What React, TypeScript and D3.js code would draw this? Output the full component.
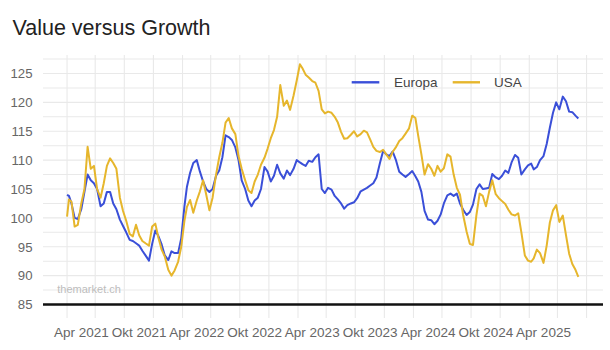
import React from "react";
import * as d3 from "d3";

const DATES = [
  "2021-02-15","2021-02-21",
  "2021-03-01","2021-03-11","2021-03-21","2021-04-01","2021-04-11","2021-04-21",
  "2021-05-01","2021-05-11","2021-05-21","2021-06-01","2021-06-11","2021-06-21",
  "2021-07-01","2021-07-11","2021-07-21","2021-08-01","2021-08-11","2021-08-21",
  "2021-09-01","2021-09-11","2021-09-21","2021-10-01","2021-10-11","2021-10-21",
  "2021-11-01","2021-11-11","2021-11-21","2021-12-01","2021-12-11","2021-12-21",
  "2022-01-01","2022-01-11","2022-01-21","2022-02-01","2022-02-11","2022-02-21",
  "2022-03-01","2022-03-11","2022-03-21","2022-04-01","2022-04-11","2022-04-21",
  "2022-05-01","2022-05-11","2022-05-21","2022-06-01","2022-06-11","2022-06-21",
  "2022-07-01","2022-07-11","2022-07-21","2022-08-01","2022-08-11","2022-08-21",
  "2022-09-01","2022-09-11","2022-09-21","2022-10-01","2022-10-11","2022-10-21",
  "2022-11-01","2022-11-11","2022-11-21","2022-12-01","2022-12-11","2022-12-21",
  "2023-01-01","2023-01-11","2023-01-21","2023-02-01","2023-02-11","2023-02-21",
  "2023-03-01","2023-03-11","2023-03-21","2023-04-01","2023-04-11","2023-04-21",
  "2023-05-01","2023-05-11","2023-05-21","2023-06-01","2023-06-11","2023-06-21",
  "2023-07-01","2023-07-11","2023-07-21","2023-08-01","2023-08-11","2023-08-21",
  "2023-09-01","2023-09-11","2023-09-21","2023-10-01","2023-10-11","2023-10-21",
  "2023-11-01","2023-11-11","2023-11-21","2023-12-01","2023-12-11","2023-12-21",
  "2024-01-01","2024-01-11","2024-01-21","2024-02-01","2024-02-11","2024-02-21",
  "2024-03-01","2024-03-11","2024-03-21","2024-04-01","2024-04-11","2024-04-21",
  "2024-05-01","2024-05-11","2024-05-21","2024-06-01","2024-06-11","2024-06-21",
  "2024-07-01","2024-07-11","2024-07-21","2024-08-01","2024-08-11","2024-08-21",
  "2024-09-01","2024-09-11","2024-09-21","2024-10-01","2024-10-11","2024-10-21",
  "2024-11-01","2024-11-11","2024-11-21","2024-12-01","2024-12-11","2024-12-21",
  "2025-01-01","2025-01-11","2025-01-21","2025-02-01","2025-02-11","2025-02-21",
  "2025-03-01","2025-03-11","2025-03-21","2025-04-01","2025-04-11","2025-04-21",
  "2025-05-01","2025-05-11","2025-05-21","2025-06-01","2025-06-11","2025-06-21",
  "2025-07-01","2025-07-11","2025-07-20",
];

const EUROPA = [
  104, 103.8,
  102.5, 100, 99.8, 101.5, 104.5, 107.5,
  106.5, 106, 105, 102, 102.5, 104.5,
  104.5, 102.5, 101.5, 99.7, 98.6, 97.5,
  96.2, 96, 95.6, 95.2, 94.3, 93.5,
  92.6, 95.5, 97.8, 96.8, 95.4, 93.5,
  92.7, 94.2, 93.9, 93.9, 96.5, 102,
  105.4, 107.8, 109.5, 110, 108, 106.3,
  105, 104.5, 105, 107.3, 108.2, 110.5,
  114.3, 114, 113.5, 112.2, 110, 106.5,
  105, 103, 102, 103, 103.5, 105,
  108.8, 108, 106.3, 107.3, 109.2, 107.7,
  106.8, 108.2, 107.4, 108.5, 110, 109.6,
  109.3, 109, 109.9, 109.7, 110.5, 111,
  105, 104.3, 105.2, 104.9, 103.8, 103.2,
  102.5, 101.6, 102.2, 102.5, 102.7, 103.4,
  104.6, 104.9, 105.2, 105.6, 106, 107,
  109.5, 111.6, 111, 110.7, 111.5, 110.1,
  108, 107.5, 107.1, 107.6, 108.1, 107.2,
  106.3, 104.5, 101.2, 99.7, 99.6, 98.9,
  99.5, 100.6, 102.5, 103.9, 104.2, 103.8,
  104.2, 102.5, 101.4, 100.5, 101, 102.3,
  105, 105.8, 105, 105.1, 105.2, 107.6,
  107, 106.7, 107.3, 108.2, 107.8, 109.6,
  110.9, 110.4, 107.5, 108.4, 109.1, 109.4,
  108.4, 108.8, 110, 110.7, 112.8, 115.6,
  118.2, 120, 118.8, 121, 120.2, 118.4,
  118.3, 117.7, 117.2,
];

const USA = [
  100.2, 103.2,
  102.8, 98.5, 98.8, 102.5, 105, 112.3,
  108.5, 109, 105, 103.5, 106, 109,
  110.3, 109.5, 108.5, 103.5, 101.2, 99.5,
  97.2, 96.8, 98.8, 97, 96, 95.6,
  95.2, 98.5, 99, 96.5, 94.5, 93.3,
  91, 90, 90.9, 92.4, 95, 99.5,
  101.9, 103.1, 100.9, 103, 104.6, 106.5,
  104, 101.3, 103.5, 107.5, 110.5, 113,
  116.5, 117.3, 115.5, 114.5, 110.7, 108.5,
  106.5, 104.8, 104.3, 106.3, 107.5, 109.2,
  110.4, 112, 113.8, 115.2, 117.5, 123,
  119.4, 120.3, 118.7, 121.2, 123.8, 126.6,
  125.9, 124.8, 124.3, 123.7, 123.4, 122,
  118.8, 118.1, 118.4, 118.2, 117.5, 116.5,
  114.9, 113.7, 113.8, 114.4, 115, 114.1,
  114.5, 115.1, 114.8, 113.6, 112.3, 111.6,
  111.4, 111.8, 111, 110.2, 111.4, 112.2,
  113.3, 113.8, 114.6, 115.5, 117.7, 117.3,
  114.2, 111, 107.5, 109.3, 108.5, 107.3,
  109, 108, 108.6, 111, 110.6, 107.5,
  105.2, 104, 100.5, 97.6, 95.5, 95.3,
  100.5, 104.2, 103.8, 102, 104.5, 106.5,
  104.1, 103.4, 102.9, 102.4, 101.4, 100.6,
  100.4, 100.8, 97.5, 93.5, 92.6, 92.4,
  93, 94.5, 93.9, 92.2, 95.2, 99.2,
  101.3, 102.2, 99.3, 100.4, 97, 93.8,
  92, 91, 89.8,
];

const SERIES_NAMES = ["Europa", "USA"];
const SERIES_COLORS = ["#3a4fd8", "#e6b62c"];
const Y_TICKS = [85, 90, 95, 100, 105, 110, 115, 120, 125];
const Y_GRID = [87.5, 90, 92.5, 95, 97.5, 100, 102.5, 105, 107.5, 110, 112.5, 115, 117.5, 120, 122.5, 125, 127.5];
const X_TICK_DATES = ["2021-04-01","2021-10-01","2022-04-01","2022-10-01","2023-04-01","2023-10-01","2024-04-01","2024-10-01","2025-04-01"];
const X_TICK_LABELS = ["Apr 2021","Okt 2021","Apr 2022","Okt 2022","Apr 2023","Okt 2023","Apr 2024","Okt 2024","Apr 2025"];
const X_GRID_DATES = [
  "2021-02-15","2021-05-15","2021-08-15","2021-11-15",
  "2022-02-15","2022-05-15","2022-08-15","2022-11-15",
  "2023-02-15","2023-05-15","2023-08-15","2023-11-15",
  "2024-02-15","2024-05-15","2024-08-15","2024-11-15",
  "2025-02-15","2025-05-15","2025-08-15",
];

const W = 610, H = 350;
const PL = 43, PR = 603, PT = 55, PB = 318;
const FONT = "'Liberation Sans', Arial, Helvetica, sans-serif";

export default function App() {
  const parse = d3.utcParse("%Y-%m-%d");
  const x = d3.scaleUtc().domain([parse("2020-12-01")!, parse("2025-10-06")!]).range([PL, PR]);
  const y = d3.scaleLinear().domain([85, 125]).range([304.5, 73.5]);
  const dates = DATES.map((d) => parse(d)!);
  const seriesVals = [EUROPA, USA];
  const line = d3.line<[Date, number]>().x((d) => x(d[0])).y((d) => y(d[1]));

  return (
    <svg width={W} height={H} style={{ position: "absolute", left: 0, top: 0, background: "#fff" }} fontFamily={FONT}>
      <rect x={0} y={0} width={W} height={H} fill="#fff" />
      <text x={12.5} y={34.5} fontSize={21.5} fill="#222">Value versus Growth</text>
      {Y_GRID.map((v) => (
        <line key={"hy" + v} x1={PL} x2={PR} y1={y(v)} y2={y(v)} stroke="#e9e9e9" strokeWidth={1.1} />
      ))}
      {X_GRID_DATES.map((d) => (
        <line key={"gx" + d} x1={x(parse(d)!)} x2={x(parse(d)!)} y1={PT} y2={PB} stroke="#e9e9e9" strokeWidth={1.1} />
      ))}
      <line x1={PL} x2={PR} y1={y(85)} y2={y(85)} stroke="#111" strokeWidth={2.4} />
      {Y_TICKS.map((v) => (
        <text key={"yt" + v} x={32.5} y={y(v)} dy="0.36em" textAnchor="end" fontSize={13.2} fill="#666">{v}</text>
      ))}
      {X_TICK_DATES.map((d, i) => (
        <text key={"xt" + d} x={x(parse(d)!)} y={336.5} textAnchor="middle" fontSize={13.5} fill="#666">{X_TICK_LABELS[i]}</text>
      ))}
      <text x={57.3} y={293.3} fontSize={11} fill="#bdbdbd">themarket.ch</text>
      {seriesVals.map((vals, i) => (
        <path
          key={SERIES_NAMES[i]}
          d={line(dates.map((dt, j) => [dt, vals[j]] as [Date, number])) || ""}
          fill="none"
          stroke={SERIES_COLORS[i]}
          strokeWidth={2}
          strokeLinejoin="round"
        />
      ))}
      <g>
        <line x1={351.7} x2={379.3} y1={82.3} y2={82.3} stroke={SERIES_COLORS[0]} strokeWidth={2.4} />
        <text x={394} y={87} fontSize={13.5} fill="#444">{SERIES_NAMES[0]}</text>
        <line x1={452.7} x2={480} y1={82.3} y2={82.3} stroke={SERIES_COLORS[1]} strokeWidth={2.4} />
        <text x={494} y={87} fontSize={13.5} fill="#444">{SERIES_NAMES[1]}</text>
      </g>
    </svg>
  );
}
